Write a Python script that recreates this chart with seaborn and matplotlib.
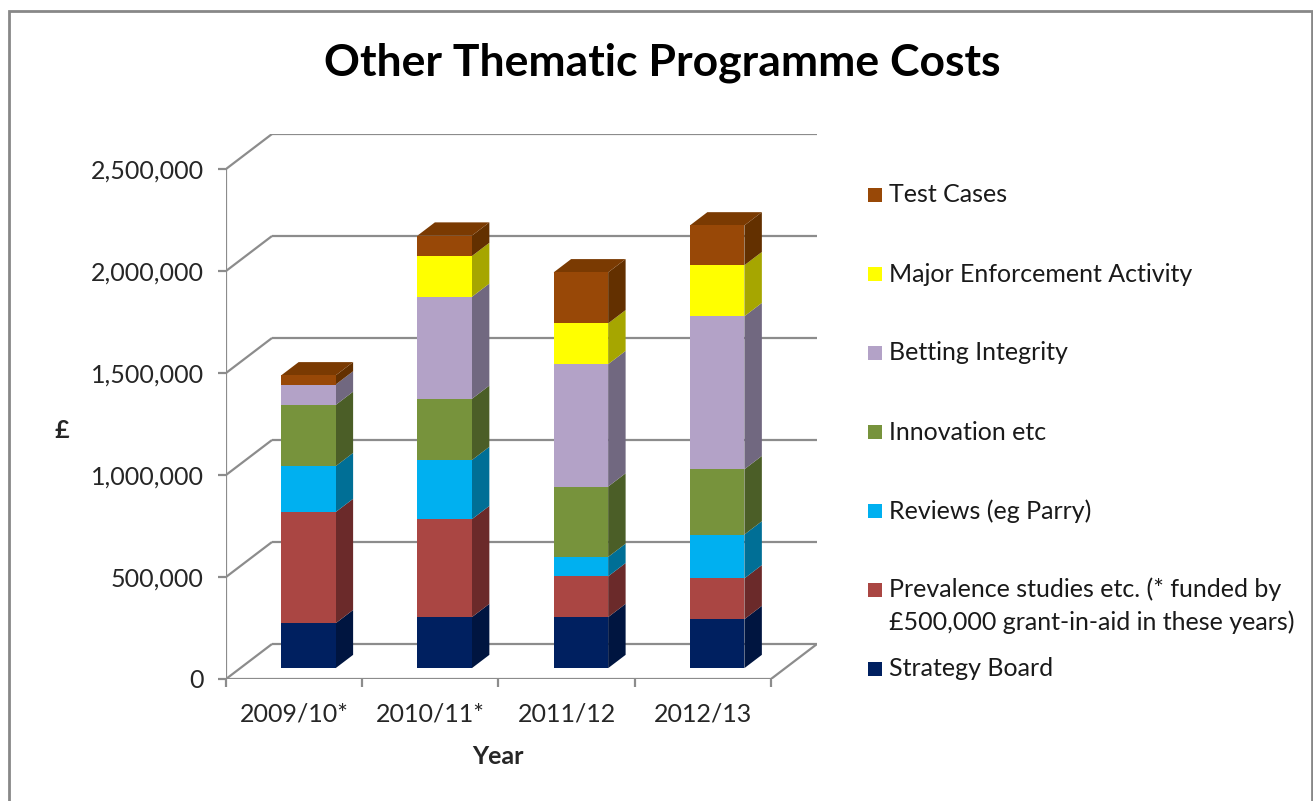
import matplotlib
matplotlib.use('Agg')
import matplotlib.pyplot as plt
from matplotlib.patches import Polygon, Rectangle
import pandas as pd
import seaborn as sns

# data
years = ['2009/10*', '2010/11*', '2011/12', '2012/13']
series_names = [
    'Strategy Board',
    'Prevalence studies etc. (* funded by\n£500,000 grant-in-aid in these years)',
    'Reviews (eg Parry)',
    'Innovation etc',
    'Betting Integrity',
    'Major Enforcement Activity',
    'Test Cases',
]
strategy_board = [220000, 250000, 250000, 240000]
prevalence = [545000, 480000, 200000, 200000]
reviews = [225000, 290000, 95000, 215000]
innovation = [300000, 300000, 345000, 320000]
betting = [100000, 500000, 600000, 750000]
enforcement = [0, 200000, 200000, 250000]
test_cases = [45000, 100000, 250000, 195000]
y_ticks = [0, 500000, 1000000, 1500000, 2000000, 2500000]

front_colors = ['#002060', '#AA4643', '#00B0F0', '#77933C', '#B3A2C7', '#FFFF00', '#984807']
side_colors = ['#001540', '#6B2A2A', '#006F96', '#4B5E27', '#716880', '#A6A600', '#633000']
top_color = '#7A3A02'
grid_color = '#8C8C8C'

# fake-3D geometry (pixels converted to data units)
PX_CAT = 136.25
PX_VAL = 102 / 500000
DX = 46 / PX_CAT
DY = 35 / PX_VAL
FRONT = 0.31
BACK = 0.69
W = 0.4

df = pd.DataFrame({'Year': years})
for name, vals in zip(series_names, [strategy_board, prevalence, reviews, innovation,
                                     betting, enforcement, test_cases]):
    df[name] = vals
cum = df[series_names].cumsum(axis=1)

sns.set_style('white')
plt.rcParams['font.family'] = ['Lato', 'DejaVu Sans']
plt.rcParams['text.color'] = '#1a1a1a'

fig = plt.figure(figsize=(13.13, 8.01), dpi=100)
ax = fig.add_axes([226 / 1313, 122 / 801, 591 / 1313, 545 / 801])

x_left = -0.5 - FRONT * DX
x_front_right = 3.5 - FRONT * DX
x_back_left = -0.5 + (1 - FRONT) * DX
x_back_right = 3.5 + (1 - FRONT) * DX
y_top = y_ticks[-1]

# walls: back gridlines and left-wall diagonals
line_kw = dict(color=grid_color, lw=1.6, zorder=1, solid_capstyle='butt')
for v in y_ticks:
    ax.plot([x_back_left, x_back_right], [v + (1 - FRONT) * DY] * 2, **line_kw)
    ax.plot([x_left, x_back_left], [v - FRONT * DY, v + (1 - FRONT) * DY], **line_kw)
ax.plot([x_left, x_left], [-FRONT * DY, y_top - FRONT * DY], **line_kw)
ax.plot([x_left, x_front_right, x_back_right],
        [-FRONT * DY, -FRONT * DY, (1 - FRONT) * DY], **line_kw)

# front faces: cumulative totals drawn from the top series down
for name, fc in reversed(list(zip(series_names, front_colors))):
    sns.barplot(x=df['Year'], y=cum[name], order=years, color=fc, saturation=1,
                width=W, linewidth=0, ax=ax, zorder=3)

# side and top faces
ddx = (BACK - FRONT) * DX
ddy = (BACK - FRONT) * DY
for i in range(len(years)):
    lo = 0
    for name, sc in zip(series_names, side_colors):
        hi = cum.loc[i, name]
        if hi > lo:
            xr = i + W / 2
            ax.add_patch(Polygon([(xr, lo), (xr + ddx, lo + ddy), (xr + ddx, hi + ddy), (xr, hi)],
                                 closed=True, fc=sc, ec='none', zorder=2))
        lo = hi
    ax.add_patch(Polygon([(i - W / 2, lo), (i + W / 2, lo), (i + W / 2 + ddx, lo + ddy),
                          (i - W / 2 + ddx, lo + ddy)], closed=True, fc=top_color, ec='none', zorder=2))

ax.set_xlim(x_left, x_back_right)
ax.set_ylim(-FRONT * DY, y_top + (1 - FRONT) * DY)
for s in ax.spines.values():
    s.set_visible(False)

ax.set_xticks([k - 0.5 - FRONT * DX for k in range(len(years) + 1)])
ax.set_xticklabels([])
ax.set_xticks([i - FRONT * DX for i in range(len(years))], minor=True)
ax.set_xticklabels(years, minor=True, fontsize=18)
ax.tick_params(axis='x', which='major', direction='out', length=6, width=1.6, color=grid_color, bottom=True)
ax.tick_params(axis='x', which='minor', length=0, pad=17, bottom=True)
ax.set_yticks([v - FRONT * DY for v in y_ticks])
ax.set_yticklabels([f'{v:,}' for v in y_ticks], fontsize=18)
ax.tick_params(axis='y', direction='out', length=6, width=1.6, color=grid_color, left=True, pad=10)

ax.set_xlabel('Year', fontsize=18, fontweight='bold')
ax.xaxis.set_label_coords((498 - 226) / 591, (679 - 756) / 545)
ax.xaxis.label.set_va('center')
ax.set_ylabel('£', fontsize=18, fontweight='bold', rotation=0, ha='center', va='center')
ax.yaxis.set_label_coords((62 - 226) / 591, (679 - 430) / 545)

fig.text(662 / 1313, 1 - 63 / 801, 'Other Thematic Programme Costs', ha='center', va='center',
         fontsize=32, fontweight='bold', color='black')

# legend, top entry first
for k, (name, fc) in enumerate(reversed(list(zip(series_names, front_colors)))):
    yc = 195 + 79 * k
    fig.add_artist(Rectangle((868 / 1313, 1 - (yc + 7) / 801), 14 / 1313, 14 / 801,
                             transform=fig.transFigure, fc=fc, ec='none'))
    if '\n' in name:
        fig.text(889 / 1313, 1 - (yc - 13) / 801, name, ha='left', va='top', fontsize=18,
                 linespacing=1.5)
    else:
        fig.text(889 / 1313, 1 - yc / 801, name, ha='left', va='center', fontsize=18)

# chart border
fig.add_artist(Rectangle((9 / 1313, -0.05), 1303 / 1313, 1.05 - 11 / 801, transform=fig.transFigure,
                         fill=False, ec='#888888', lw=2))

fig.savefig('out.png', dpi=100)
